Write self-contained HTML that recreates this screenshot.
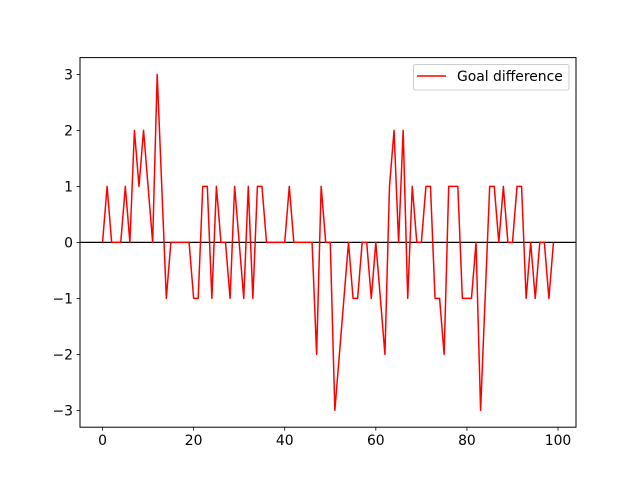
<!DOCTYPE html>
<html><head><meta charset="utf-8"><style>
html,body{margin:0;padding:0;background:#fff;}
svg{display:block;font-family:"DejaVu Sans","Liberation Sans",sans-serif;}
</style></head><body>
<svg id="chart" width="640" height="480" viewBox="0 0 640 480">
<rect x="0" y="0" width="640" height="480" fill="#fff"/>
<g id="plot"></g>
</svg>
<script>
const xTicks = [0, 20, 40, 60, 80, 100];
const yTicks = [-3, -2, -1, 0, 1, 2, 3];
const yTickLabels = ["\u22123", "\u22122", "\u22121", "0", "1", "2", "3"];
const goalDiff = [0,1,0,0,0,1,0,2,1,2,1,0,3,1,-1,0,0,0,0,0,-1,-1,1,1,-1,1,0,0,-1,1,0,-1,1,-1,1,1,0,0,0,0,0,1,0,0,0,0,0,-2,1,0,0,-3,-2,-1,0,-1,-1,0,0,-1,0,-1,-2,1,2,0,2,-1,1,0,0,1,1,-1,-1,-2,1,1,1,-1,-1,-1,0,-3,-1,1,1,0,1,0,0,1,1,-1,0,-1,0,0,-1,0];
const seriesName = "Goal difference";

const L=80,R=576,T=57.6,B=427.2;
const xMin=-4.95,xMax=103.95,yMin=-3.3,yMax=3.3;
const sx=v=>L+(v-xMin)/(xMax-xMin)*(R-L);
const sy=v=>B-(v-yMin)/(yMax-yMin)*(B-T);
const NS="http://www.w3.org/2000/svg";
const g=document.getElementById('plot');
function mk(tag,attrs){const e=document.createElementNS(NS,tag);for(const k in attrs)e.setAttribute(k,attrs[k]);g.appendChild(e);return e;}

// zero line
const zl=mk('line',{x1:L,x2:R,y1:sy(0),y2:sy(0),stroke:'#000','stroke-width':1.2});



// series
const pts=goalDiff.map((v,i)=>sx(i).toFixed(2)+','+sy(v).toFixed(2)).join(' ');
const line=mk('polyline',{points:pts,fill:'none',stroke:'#ff0000','stroke-width':1.5,'stroke-linejoin':'round'});



// frame
const fr=mk('rect',{x:L,y:T,width:R-L,height:B-T,fill:'none',stroke:'#000','stroke-width':1});



xTicks.forEach(t=>{
  const x=sx(t);
  const tk=mk('line',{x1:x,x2:x,y1:B,y2:B+3.5,stroke:'#000','stroke-width':0.8});
  
  
  const tx=mk('text',{x:x,y:B+18,'text-anchor':'middle','font-size':'13.9px',fill:'#000'});
  tx.textContent=t;
  
  
});
yTicks.forEach((t,i)=>{
  const y=sy(t);
  const tk=mk('line',{x1:L-3.5,x2:L,y1:y,y2:y,stroke:'#000','stroke-width':0.8});
  
  
  const tx=mk('text',{x:L-7,y:y+5,'text-anchor':'end','font-size':'13.9px',fill:'#000'});
  tx.textContent=yTickLabels[i];
  
  
});

// legend
const lb=mk('rect',{x:413.5,y:64.5,width:155.5,height:25.5,rx:2,fill:'#fff','fill-opacity':0.8,stroke:'#ccc','stroke-width':1});


const ll=mk('line',{x1:417,x2:446,y1:76,y2:76,stroke:'#ff0000','stroke-width':1.5});


const lt=mk('text',{x:457,y:81,'font-size':'13.9px',fill:'#000'});
lt.textContent=seriesName;


</script>
</body></html>
